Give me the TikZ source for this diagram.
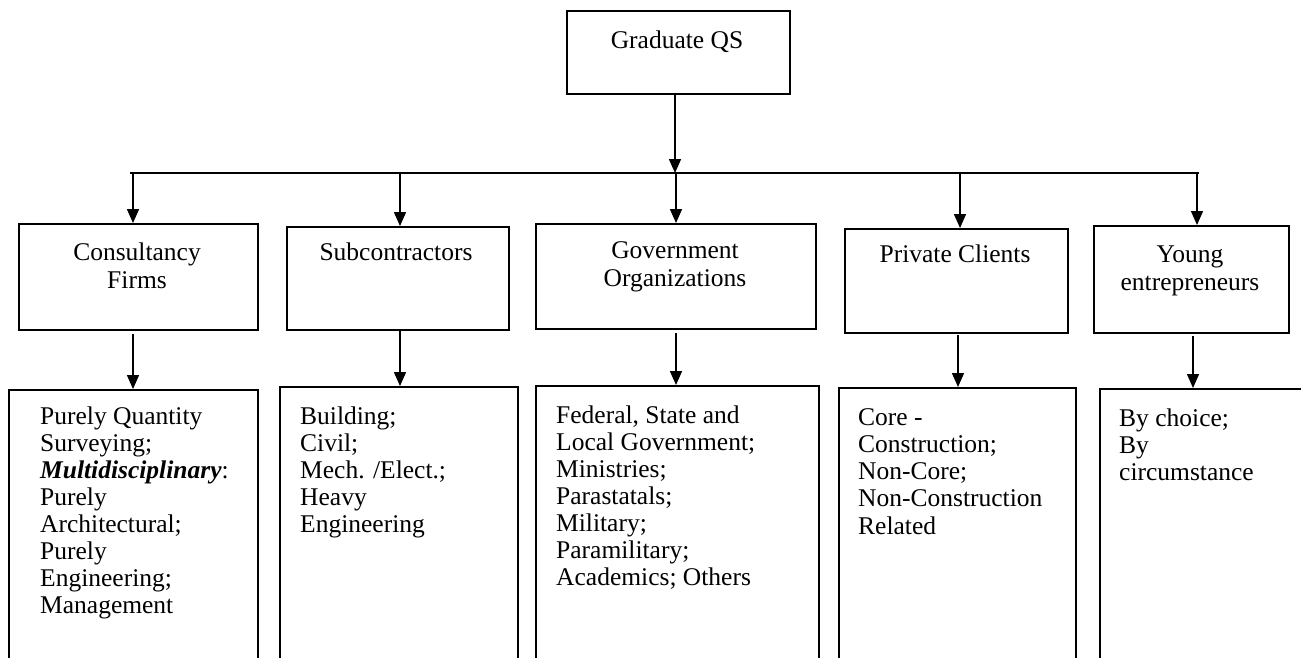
\documentclass[tikz,border=0pt]{standalone}
\usepackage{fontspec}
\setmainfont{Liberation Serif}
\usetikzlibrary{arrows.meta}
\begin{document}
\begin{tikzpicture}[x=1pt,y=-1pt,
  box/.style={draw,line width=1.5pt,inner sep=0pt,anchor=north west},
  lbl/.style={inner sep=0pt,align=center,anchor=north,font=\fontsize{25.5}{28}\selectfont},
  det/.style={inner sep=0pt,align=left,anchor=north west,font=\fontsize{25.5}{27.1}\selectfont},
  arr/.style={line width=1.5pt,-{Triangle[length=14pt,width=12pt]}},
  barline/.style={line width=1.7pt}]
\useasboundingbox (0,0) rectangle (1301,657);
\clip (0,0) rectangle (1301,657);
% top box
\node[box,minimum width=223pt,minimum height=83pt] (qs) at (566,10) {};
\node[lbl] (qst) at (677,28.4) {\strut Graduate QS};
% second level boxes
\node[box,minimum width=239pt,minimum height=106pt] (cf) at (18,223) {};
\node[box,minimum width=222pt,minimum height=103pt] (sub) at (286,226) {};
\node[box,minimum width=280pt,minimum height=105pt] (gov) at (535,223) {};
\node[box,minimum width=223pt,minimum height=104pt] (pc) at (844,228) {};
\node[box,minimum width=195pt,minimum height=107pt] (ye) at (1093,225) {};
\node[lbl] (cft) at (137,240.4) {\strut Consultancy\\Firms};
\node[lbl] (subt) at (396,240.4) {\strut Subcontractors};
\node[lbl] (govt) at (675,238.4) {\strut Government\\Organizations};
\node[lbl] (pct) at (955,242.4) {\strut Private Clients};
\node[lbl] (yet) at (1190,242.4) {\strut Young\\entrepreneurs};
% detail boxes
\node[box,minimum width=249pt,minimum height=320pt] (cfd) at (8,389) {};
\node[box,minimum width=238pt,minimum height=320pt] (subd) at (279,386) {};
\node[box,minimum width=283pt,minimum height=320pt] (govd) at (535,385) {};
\node[box,minimum width=237pt,minimum height=320pt] (pcd) at (838,387) {};
\node[box,minimum width=260pt,minimum height=320pt] (yed) at (1099,388) {};
\node[det] (cfdt) at (40,405) {\strut Purely Quantity\\Surveying;\\\textbf{\textit{Multidisciplinary}}:\\Purely\\Architectural;\\Purely\\Engineering;\\Management};
\node[det] (subdt) at (300,405) {\strut Building;\\Civil;\\Mech. /Elect.;\\Heavy\\Engineering};
\node[det] (govdt) at (556,404) {\strut Federal, State and\\Local Government;\\Ministries;\\Parastatals;\\Military;\\Paramilitary;\\Academics; Others};
\node[det] (pcdt) at (858,406.5) {\strut Core -\\Construction;\\Non-Core;\\Non-Construction\\Related};
\node[det] (yedt) at (1119,407.5) {\strut By choice;\\By\\circumstance};
% bar
\coordinate (barL) at (130,173);
\coordinate (barR) at (1199,173);
\coordinate (bq) at (675,173);
\draw[barline] (barL) -- (barR);
\draw[arr] (qs.south -| bq) -- (bq);
% taps
\coordinate (b1) at (133,173);
\coordinate (b2) at (400,173);
\coordinate (b3) at (676,173);
\coordinate (b4) at (960,173);
\coordinate (b5) at (1197,173);
\draw[arr] (b1) -- (b1 |- cf.north);
\draw[arr] (b2) -- (b2 |- sub.north);
\draw[arr] (b3) -- (b3 |- gov.north);
\draw[arr] (b4) -- (b4 |- pc.north);
\draw[arr] (b5) -- (b5 |- ye.north);
% second arrows
\coordinate (c1) at (133,334);
\coordinate (c2) at (400,331);
\coordinate (c3) at (676,333);
\coordinate (c4) at (958,335);
\coordinate (c5) at (1193,336);
\draw[arr] (c1) -- (c1 |- cfd.north);
\draw[arr] (c2) -- (c2 |- subd.north);
\draw[arr] (c3) -- (c3 |- govd.north);
\draw[arr] (c4) -- (c4 |- pcd.north);
\draw[arr] (c5) -- (c5 |- yed.north);
\end{tikzpicture}
\end{document}
